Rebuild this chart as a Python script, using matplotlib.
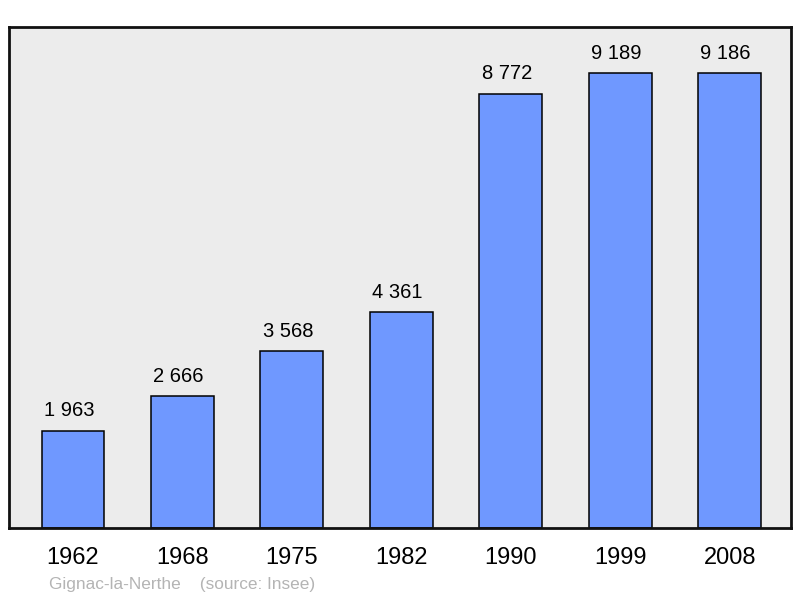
import matplotlib.pyplot as plt

years = ["1962", "1968", "1975", "1982", "1990", "1999", "2008"]
population = [1963, 2666, 3568, 4361, 8772, 9189, 9186]
value_labels = ["1 963", "2 666", "3 568", "4 361", "8 772", "9 189", "9 186"]

plt.rcParams['font.family'] = ['Liberation Sans', 'DejaVu Sans']

fig = plt.figure(figsize=(8, 5.98), dpi=100)
ax = fig.add_axes([9 / 800, 70 / 598, 782 / 800, 501 / 598])
ax.set_facecolor("#ececec")

x = list(range(len(years)))
ax.bar(x, population, width=0.575, color="#6f98ff", edgecolor="black", linewidth=1.1, zorder=2)

for xi, v, lab in zip(x, population, value_labels):
    ax.annotate(lab, (xi, v), xytext=(-3, 7.5), textcoords="offset points",
                ha="center", va="bottom", fontsize=14.5, color="black")

ax.set_xlim(-0.585, 6.56)
ax.set_ylim(0, 10117)
ax.set_xticks(x)
ax.set_xticklabels(years, fontsize=17)
ax.tick_params(axis="x", length=0, pad=13.5)
ax.set_yticks([])
for s in ax.spines.values():
    s.set_linewidth(2)
    s.set_color("#111111")

fig.text(49 / 800, 1 - 584 / 598, "Gignac-la-Nerthe    (source: Insee)",
         fontsize=12.4, color="#b4b4b4", ha="left", va="center")

fig.savefig("out.png", dpi=100)
